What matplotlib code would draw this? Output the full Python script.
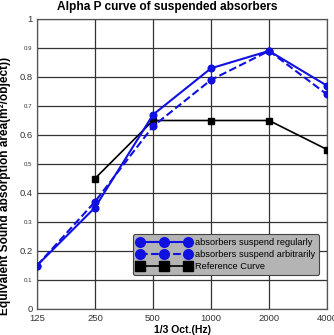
import matplotlib
matplotlib.use("Agg")
import matplotlib.pyplot as plt

plt.rcParams['font.family'] = ['Liberation Sans', 'DejaVu Sans']

freqs = ['125', '250', '500', '1000', '2000', '4000']
regular = [0.15, 0.35, 0.67, 0.83, 0.89, 0.77]
arbitrary = [0.15, 0.37, 0.63, 0.79, 0.89, 0.74]
ref_freqs = ['250', '500', '1000', '2000', '4000']
reference = [0.45, 0.65, 0.65, 0.65, 0.55]
yticks = [0, 0.1, 0.2, 0.3, 0.4, 0.5, 0.6, 0.7, 0.8, 0.9, 1]

W, H = 334, 335
fig = plt.figure(figsize=(W / 100, H / 100), dpi=100)
ax = fig.add_axes([37 / W, 1 - 309 / H, 290 / W, 290 / H])

x = list(range(len(freqs)))
xr = [freqs.index(f) for f in ref_freqs]

ax.plot(x, regular, '-o', color='#1010e0', lw=1.5, ms=4.8, label='absorbers suspend regularly', zorder=4)
ax.plot(x, arbitrary, '--o', color='#1010e0', lw=1.5, ms=4.8, label='absorbers suspend arbitrarily', zorder=4)
ax.plot(xr, reference, '-s', color='black', lw=1.2, ms=4.5, label='Reference Curve', zorder=3)

ax.set_xlim(0, 5)
ax.set_ylim(0, 1)
ax.set_xticks(x)
ax.set_xticklabels(freqs, fontsize=6.8, color='#333333')
ax.set_yticks(yticks)
labels = []
for v in yticks:
    labels.append('0' if v == 0 else ('1' if v == 1 else f'{v:.1f}'))
ax.set_yticklabels(labels, color='#333333')
for i, t in enumerate(ax.get_yticklabels()):
    t.set_fontsize(6.8 if i % 2 == 0 else 4.4)
ax.tick_params(axis='y', length=0, pad=3.3)
ax.tick_params(axis='x', length=0, pad=3.5)
ax.grid(True, color='#333333', lw=0.9)
ax.set_axisbelow(True)
for s in ax.spines.values():
    s.set_color('#555555')
    s.set_linewidth(0.9)

fig.text(0.5, 1 - 1 / H, 'Alpha P curve of suspended absorbers', fontsize=8.6,
         fontweight='bold', ha='center', va='top')
ax.set_xlabel('1/3 Oct.(Hz)', fontsize=7.5, fontweight='bold', labelpad=1.5)
ax.set_ylabel('Equivalent Sound absorption area(m²/object))', fontsize=8.6, fontweight='bold')
ax.yaxis.set_label_coords(-26 / 290, (309 - 186) / 290)

leg = ax.legend(loc='lower right', bbox_to_anchor=((319 - 37) / 290, (309 - 275) / 290),
                borderaxespad=0, numpoints=3, fontsize=6.7,
                facecolor='#b4b4b4', edgecolor='#444444', framealpha=1, fancybox=True,
                markerscale=1.45, handlelength=5.8, handletextpad=0.45, borderpad=0.4,
                labelspacing=0.35)
leg.get_frame().set_linewidth(0.8)

fig.savefig('out.png', dpi=100)
